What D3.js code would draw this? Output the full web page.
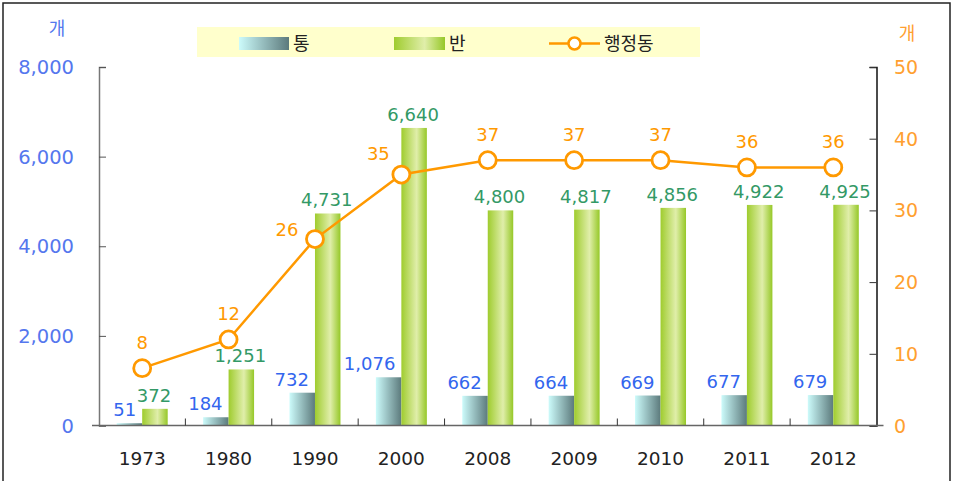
<!DOCTYPE html>
<html><head><meta charset="utf-8">
<script src="https://cdn.jsdelivr.net/npm/d3@7"></script>
<style>body{margin:0;background:#fff}svg{display:block}</style>
</head><body>
<svg id="c" width="954" height="481"></svg>
<script>
const years = ["1973","1980","1990","2000","2008","2009","2010","2011","2012"];
const tong = [51,184,732,1076,662,664,669,677,679];
const ban = [372,1251,4731,6640,4800,4817,4856,4922,4925];
const dong = [8,12,26,35,37,37,37,36,36];
const leftTicks = [0,2000,4000,6000,8000];
const rightTicks = [0,10,20,30,40,50];
const seriesNames = ["통","반","행정동"];

const svg = d3.select("#c");
const font = "'DejaVu Sans', sans-serif";
const kfont = "'Noto Sans CJK KR', sans-serif";
const m = {l:99, r:876.5, t:67, b:425.5};

const defs = svg.append("defs");
const g1 = defs.append("linearGradient").attr("id","gTong").attr("x1","0").attr("x2","1").attr("y1","0").attr("y2","0");
g1.append("stop").attr("offset","0").attr("stop-color","#ccfbfb");
g1.append("stop").attr("offset","1").attr("stop-color","#5c7a7c");
const g2 = defs.append("linearGradient").attr("id","gBan").attr("x1","0").attr("x2","1").attr("y1","0").attr("y2","0");
g2.append("stop").attr("offset","0").attr("stop-color","#9fcc2e");
g2.append("stop").attr("offset","0.6").attr("stop-color","#e0eeaa");
g2.append("stop").attr("offset","1").attr("stop-color","#96c828");

// frame
svg.append("rect").attr("x",3).attr("y",3).attr("width",947).attr("height",490)
  .attr("fill","none").attr("stroke","#222").attr("stroke-width",1.5);

const x = d3.scaleBand().domain(years).range([m.l,m.r]);
const yL = d3.scaleLinear().domain([0,8000]).range([m.b,m.t]);
const yR = d3.scaleLinear().domain([0,50]).range([m.b,m.t]);
const bw = x.bandwidth()*0.295;

// legend
const lg = svg.append("g");
lg.append("rect").attr("x",197).attr("y",27).attr("width",503).attr("height",30).attr("fill","#ffffcc");
lg.append("rect").attr("x",239).attr("y",37).attr("width",50).attr("height",13).attr("fill","url(#gTong)");
lg.append("text").attr("x",293).attr("y",50).text(seriesNames[0]);
lg.append("rect").attr("x",394).attr("y",37).attr("width",51).attr("height",13).attr("fill","url(#gBan)");
lg.append("text").attr("x",449).attr("y",50).text(seriesNames[1]);
lg.append("line").attr("x1",549).attr("x2",600).attr("y1",43.5).attr("y2",43.5).attr("stroke","#ff9900").attr("stroke-width",2.5);
lg.append("circle").attr("cx",574.5).attr("cy",43.5).attr("r",6).attr("fill","#fff").attr("stroke","#ff9900").attr("stroke-width",2.5);
lg.append("text").attr("x",604).attr("y",50).text(seriesNames[2]);
lg.selectAll("text").attr("font-family",kfont).attr("font-size",18).attr("fill","#222");

// unit labels
svg.append("text").attr("x",57).attr("y",35).attr("text-anchor","middle").attr("font-family",kfont)
  .attr("font-size",18).attr("fill","#5577ee").text("개");
svg.append("text").attr("x",907).attr("y",40).attr("text-anchor","middle").attr("font-family",kfont)
  .attr("font-size",18).attr("fill","#ffa030").text("개");

// bars
svg.selectAll(".bt").data(tong).join("rect")
  .attr("x",(d,i)=>x(years[i])+x.bandwidth()/2-bw).attr("width",bw)
  .attr("y",d=>yL(d)).attr("height",d=>yL(0)-yL(d)).attr("fill","url(#gTong)");
svg.selectAll(".bb").data(ban).join("rect")
  .attr("x",(d,i)=>x(years[i])+x.bandwidth()/2).attr("width",bw)
  .attr("y",d=>yL(d)).attr("height",d=>yL(0)-yL(d)).attr("fill","url(#gBan)");

// axes
const axL = svg.append("g").attr("transform",`translate(${m.l},0)`)
  .call(d3.axisRight(yL).tickValues(leftTicks).tickSize(7).tickFormat(""));
axL.select(".domain").attr("stroke","#777").attr("stroke-width",1.5);
axL.selectAll(".tick line").attr("stroke","#555");
const axR = svg.append("g").attr("transform",`translate(${m.r},0)`)
  .call(d3.axisLeft(yR).tickValues(rightTicks).tickSize(7).tickFormat(""));
axR.select(".domain").attr("stroke","#111").attr("stroke-width",1.5);
axR.selectAll(".tick line").attr("stroke","#333");
svg.append("line").attr("x1",m.l-7).attr("x2",m.r+7).attr("y1",m.b).attr("y2",m.b).attr("stroke","#666").attr("stroke-width",1.5);
svg.selectAll(".bt2").data(years.slice(1)).join("line")
  .attr("x1",d=>x(d)).attr("x2",d=>x(d)).attr("y1",m.b).attr("y2",m.b-7).attr("stroke","#333");

// tick labels
const fmt = d3.format(",");
svg.selectAll(".lt").data(leftTicks).join("text")
  .attr("x",74).attr("y",d=>yL(d)+7).attr("text-anchor","end")
  .attr("font-family",font).attr("font-size",19.5).attr("fill","#5577ee").text(d=>fmt(d));
svg.selectAll(".rt").data(rightTicks).join("text")
  .attr("x",894).attr("y",d=>yR(d)+7).attr("text-anchor","start")
  .attr("font-family",font).attr("font-size",19).attr("fill","#ffa030").text(d=>d);
svg.selectAll(".xt").data(years).join("text")
  .attr("x",d=>x(d)+x.bandwidth()/2).attr("y",465).attr("text-anchor","middle")
  .attr("font-family",font).attr("font-size",18.5).attr("fill","#222").text(d=>d);

// line
const cx = i => x(years[i])+x.bandwidth()/2;
svg.append("path").datum(dong)
  .attr("d",d3.line().x((d,i)=>cx(i)).y(d=>yR(d)))
  .attr("fill","none").attr("stroke","#ff9900").attr("stroke-width",2.5);
svg.selectAll(".pt").data(dong).join("circle")
  .attr("cx",(d,i)=>cx(i)).attr("cy",d=>yR(d)).attr("r",8.5)
  .attr("fill","#fff").attr("stroke","#ff9900").attr("stroke-width",2.8);

// value labels
svg.selectAll(".tl").data(tong).join("text")
  .attr("x",(d,i)=>cx(i)-6).attr("y",d=>yL(d)-7).attr("text-anchor","end")
  .attr("font-family",font).attr("font-size",18).attr("fill","#3366ee").text(d=>fmt(d));
svg.selectAll(".bl").data(ban).join("text")
  .attr("x",(d,i)=>cx(i)+bw/2-1).attr("y",d=>yL(d)-7).attr("text-anchor","middle")
  .attr("font-family",font).attr("font-size",18).attr("fill","#339966").text(d=>fmt(d));
const dlx = i => i===2 ? -28 : (i===3 ? -23 : 0);
const dly = i => i===2 ? -3 : (i===3 ? -15 : -19);
svg.selectAll(".dl").data(dong).join("text")
  .attr("x",(d,i)=>cx(i)+dlx(i)).attr("y",(d,i)=>yR(d)+dly(i)).attr("text-anchor","middle")
  .attr("font-family",font).attr("font-size",18).attr("fill","#ff9900").text(d=>d);
</script>
</body></html>
